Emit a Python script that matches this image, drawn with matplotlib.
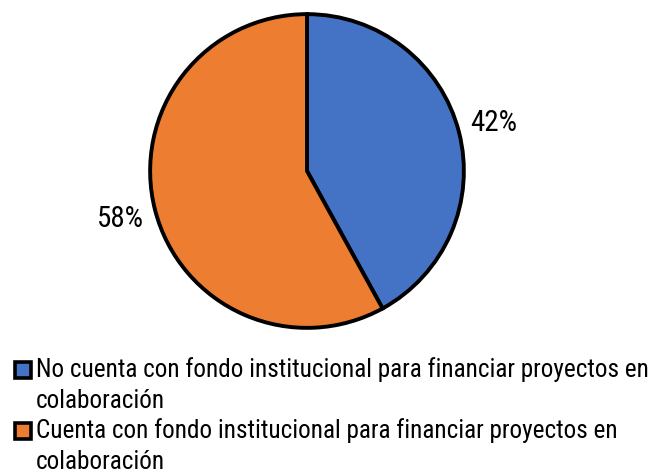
import matplotlib
matplotlib.use("Agg")
import matplotlib.pyplot as plt
from matplotlib.patches import Patch, Rectangle
from matplotlib.legend_handler import HandlerPatch

# datos
labels = [
    "No cuenta con fondo institucional para financiar proyectos en\ncolaboración",
    "Cuenta con fondo institucional para financiar proyectos en\ncolaboración",
]
values = [42, 58]
colors = ["#4472C4", "#ED7D31"]

plt.rcParams['font.family'] = ['Roboto Condensed', 'DejaVu Sans']

fig = plt.figure(figsize=(6.6, 4.73), dpi=100)
ax = fig.add_axes([(307 - 160) / 660, 1 - (171 + 160) / 473, 320 / 660, 320 / 473])

wedges, texts, autotexts = ax.pie(
    values, colors=colors, startangle=90, counterclock=False,
    autopct=lambda p: f"{p:.0f}%", pctdistance=1.23,
    wedgeprops=dict(edgecolor="black", linewidth=2.8),
    textprops=dict(fontsize=21, color="black"),
)
ax.set_xlim(-1.02, 1.02)
ax.set_ylim(-1.02, 1.02)
ax.set_aspect("equal")


# cuadrito del legend alineado con la primera linea del texto
def square(legend, orig_handle, xdescent, ydescent, width, height, fontsize):
    return Rectangle((0, 12.0), 11.2, 11.2)


handles = [Patch(facecolor=c, edgecolor="black", linewidth=2.6) for c in colors]
leg = fig.legend(handles, labels, loc="upper left", bbox_to_anchor=(15 / 660, 1 - 357 / 473),
                 frameon=False, fontsize=18.2, handlelength=0.62, handleheight=0.7,
                 handletextpad=0.22, labelspacing=0.18, borderaxespad=0, borderpad=0,
                 handler_map={Patch: HandlerPatch(patch_func=square)})
for t in leg.get_texts():
    t.set_linespacing(1.38)

fig.savefig("out.png", dpi=100)
